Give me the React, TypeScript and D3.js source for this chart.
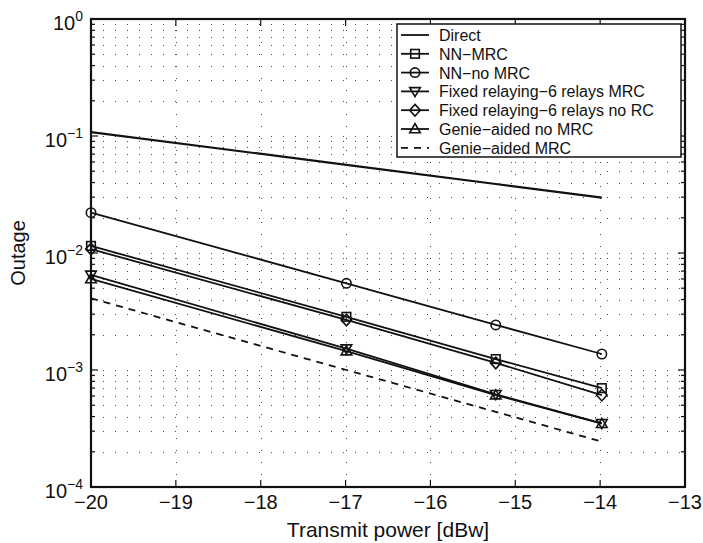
import React from "react";
import * as d3 from "d3";

const xPoints = [-20, -16.99, -15.23, -13.98];
const directVals = [0.108, 0.0567, 0.0389, 0.0297];
const nnMrc = [0.0115, 0.00285, 0.00124, 0.0007];
const nnNoMrc = [0.0221, 0.00551, 0.00243, 0.00137];
const fixedMrc = [0.0065, 0.00152, 0.00062, 0.00035];
const fixedNoRc = [0.0108, 0.00268, 0.00115, 0.00061];
const genieNoMrc = [0.006, 0.00145, 0.00061, 0.000348];
const genieMrc = [0.0041, 0.001, 0.000439, 0.000244];

const seriesNames = [
  "Direct",
  "NN\u2212MRC",
  "NN\u2212no MRC",
  "Fixed relaying\u22126 relays MRC",
  "Fixed relaying\u22126 relays no RC",
  "Genie\u2212aided no MRC",
  "Genie\u2212aided MRC",
];
const seriesValues = [directVals, nnMrc, nnNoMrc, fixedMrc, fixedNoRc, genieNoMrc, genieMrc];
const seriesMarkers = ["none", "square", "circle", "triDown", "diamond", "triUp", "none"];
const seriesDash = ["", "", "", "", "", "", "7,6"];

const xTicks = [-20, -19, -18, -17, -16, -15, -14, -13];
const yDecades = [0, -1, -2, -3, -4];

const W = 703, H = 543;
const L = 91, R = 685, T = 19, B = 487;
const FONT = "'Liberation Sans', Arial, Helvetica, sans-serif";

function Marker({ kind, x, y }: { kind: string; x: number; y: number }) {
  const s = 4.3;
  const st = { fill: "none", stroke: "#111", strokeWidth: 1.6 };
  if (kind === "square") return <rect x={x - s} y={y - s} width={2 * s} height={2 * s} {...st} />;
  if (kind === "circle") return <circle cx={x} cy={y} r={s + 0.4} {...st} />;
  if (kind === "diamond")
    return <path d={`M${x},${y - s - 1.5}L${x + s + 1},${y}L${x},${y + s + 1.5}L${x - s - 1},${y}Z`} {...st} />;
  if (kind === "triDown")
    return <path d={`M${x - s - 1},${y - s + 0.5}L${x + s + 1},${y - s + 0.5}L${x},${y + s + 1}Z`} {...st} />;
  if (kind === "triUp")
    return <path d={`M${x - s - 1},${y + s - 0.5}L${x + s + 1},${y + s - 0.5}L${x},${y - s - 1}Z`} {...st} />;
  return null;
}

export default function App() {
  const x = d3.scaleLinear().domain([-20, -13]).range([L, R]);
  const y = d3.scaleLog().domain([1e-4, 1]).range([B, T]);
  const line = d3
    .line<number>()
    .x((_, i) => x(xPoints[i]))
    .y((d) => y(d));

  const minorVals: number[] = [];
  for (let e = -4; e < 0; e++) for (let m = 2; m <= 9; m++) minorVals.push(m * Math.pow(10, e));
  const majorVals = yDecades.map((e) => Math.pow(10, e));

  const legendX = 397, legendY = 24, legendW = 284, legendH = 133;
  const rowH = 18.8;

  return (
    <svg
      width={W}
      height={H}
      style={{ position: "absolute", left: 0, top: 0, background: "#fff" }}
      fontFamily={FONT}
    >
      <rect x={0} y={0} width={W} height={H} fill="#fff" />
      {/* grid */}
      <g stroke="#444" strokeWidth={1} strokeDasharray="1,11">
        {[...minorVals, ...majorVals.slice(1, 4)].map((v, i) => (
          <line key={"h" + i} x1={L} x2={R} y1={Math.round(y(v)) + 0.5} y2={Math.round(y(v)) + 0.5} />
        ))}
        {xTicks.slice(1, -1).map((t) => (
          <line key={"v" + t} x1={Math.round(x(t)) + 0.5} x2={Math.round(x(t)) + 0.5} y1={B} y2={T} />
        ))}
      </g>
      {/* ticks */}
      <g stroke="#111" strokeWidth={1.2}>
        {xTicks.map((t) => (
          <g key={"xt" + t}>
            <line x1={x(t)} x2={x(t)} y1={B} y2={B - 7} />
            <line x1={x(t)} x2={x(t)} y1={T} y2={T + 7} />
          </g>
        ))}
        {majorVals.map((v, i) => (
          <g key={"ym" + i}>
            <line x1={L} x2={L + 7} y1={y(v)} y2={y(v)} />
            <line x1={R} x2={R - 7} y1={y(v)} y2={y(v)} />
          </g>
        ))}
        {minorVals.map((v, i) => (
          <g key={"yn" + i}>
            <line x1={L} x2={L + 4} y1={y(v)} y2={y(v)} />
            <line x1={R} x2={R - 4} y1={y(v)} y2={y(v)} />
          </g>
        ))}
      </g>
      {/* series */}
      {seriesValues.map((vals, si) => (
        <g key={"s" + si}>
          <path
            d={line(vals) || ""}
            fill="none"
            stroke="#111"
            strokeWidth={si === 0 ? 2.2 : 1.8}
            strokeDasharray={seriesDash[si] || undefined}
          />
          {vals.map((v, i) => (
            <Marker key={i} kind={seriesMarkers[si]} x={x(xPoints[i])} y={y(v)} />
          ))}
        </g>
      ))}
      {/* frame */}
      <rect x={L} y={T} width={R - L} height={B - T} fill="none" stroke="#111" strokeWidth={2.2} />
      {/* x tick labels */}
      {xTicks.map((t) => (
        <text key={"xl" + t} x={x(t)} y={B + 22} textAnchor="middle" fontSize={20} fill="#111">
          {"\u2212" + Math.abs(t)}
        </text>
      ))}
      {/* y tick labels */}
      {yDecades.map((e) => (
        <text key={"yl" + e} x={L - 8} y={y(Math.pow(10, e)) + 11} textAnchor="end" fontSize={20} fill="#111">
          10
          <tspan fontSize={14} dy={-9}>
            {e === 0 ? "0" : "\u2212" + Math.abs(e)}
          </tspan>
        </text>
      ))}
      {/* axis titles */}
      <text x={(L + R) / 2} y={537} textAnchor="middle" fontSize={21} fill="#111">
        Transmit power [dBw]
      </text>
      <text
        transform={`translate(25,${(T + B) / 2}) rotate(-90)`}
        textAnchor="middle"
        fontSize={20}
        fill="#111"
      >
        Outage
      </text>
      {/* legend */}
      <rect x={legendX} y={legendY} width={legendW} height={legendH} fill="#fff" stroke="#111" strokeWidth={1.5} />
      {seriesNames.map((name, i) => {
        const cy = legendY + 11 + i * rowH;
        return (
          <g key={"lg" + i}>
            <line
              x1={legendX + 4}
              x2={legendX + 32}
              y1={cy}
              y2={cy}
              stroke="#111"
              strokeWidth={1.8}
              strokeDasharray={seriesDash[i] || undefined}
            />
            <Marker kind={seriesMarkers[i]} x={legendX + 18} y={cy} />
            <text x={legendX + 42} y={cy + 6} fontSize={16} fill="#111">
              {name}
            </text>
          </g>
        );
      })}
    </svg>
  );
}
